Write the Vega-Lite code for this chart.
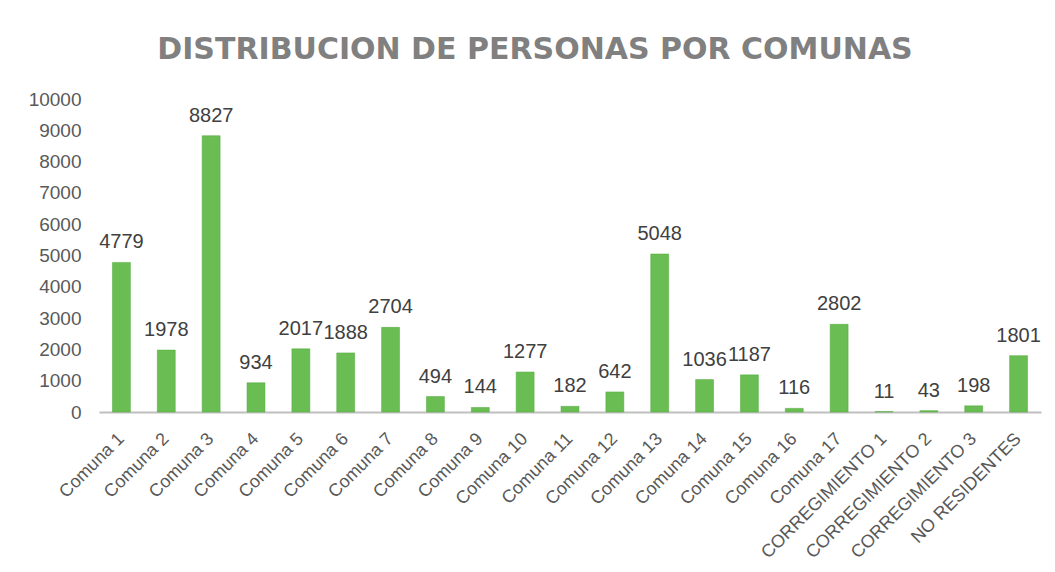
{
  "$schema": "https://vega.github.io/schema/vega-lite/v6.json",
  "width": 942,
  "height": 313,
  "autosize": {"type": "none"},
  "padding": {"left": 99, "top": 99, "right": 14, "bottom": 160},
  "background": "white",
  "title": {
    "text": "DISTRIBUCION DE PERSONAS POR COMUNAS",
    "font": "DejaVu Sans",
    "fontSize": 30,
    "fontWeight": "bold",
    "color": "#808080",
    "anchor": "middle",
    "dx": -35,
    "offset": 25
  },
  "config": {
    "view": {"stroke": null},
    "font": "Liberation Sans"
  },
  "data": {
    "values": [
      {"zona": "Comuna 1", "personas": 4779},
      {"zona": "Comuna 2", "personas": 1978},
      {"zona": "Comuna 3", "personas": 8827},
      {"zona": "Comuna 4", "personas": 934},
      {"zona": "Comuna 5", "personas": 2017},
      {"zona": "Comuna 6", "personas": 1888},
      {"zona": "Comuna 7", "personas": 2704},
      {"zona": "Comuna 8", "personas": 494},
      {"zona": "Comuna 9", "personas": 144},
      {"zona": "Comuna 10", "personas": 1277},
      {"zona": "Comuna 11", "personas": 182},
      {"zona": "Comuna 12", "personas": 642},
      {"zona": "Comuna 13", "personas": 5048},
      {"zona": "Comuna 14", "personas": 1036},
      {"zona": "Comuna 15", "personas": 1187},
      {"zona": "Comuna 16", "personas": 116},
      {"zona": "Comuna 17", "personas": 2802},
      {"zona": "CORREGIMIENTO 1", "personas": 11},
      {"zona": "CORREGIMIENTO 2", "personas": 43},
      {"zona": "CORREGIMIENTO 3", "personas": 198},
      {"zona": "NO RESIDENTES", "personas": 1801}
    ]
  },
  "encoding": {
    "x": {
      "field": "zona",
      "type": "nominal",
      "sort": null,
      "title": null,
      "scale": {"paddingInner": 0.6, "paddingOuter": 0.3},
      "axis": {
        "labelAngle": -45,
        "labelAlign": "right",
        "labelBaseline": "middle",
        "labelFontSize": 18,
        "labelColor": "#595959",
        "labelPadding": 24,
        "labelOverlap": false,
        "ticks": false,
        "domainColor": "#bfbfbf",
        "domainWidth": 2
      }
    },
    "y": {
      "field": "personas",
      "type": "quantitative",
      "title": null,
      "scale": {"domain": [0, 10000], "nice": false},
      "axis": {
        "values": [0, 1000, 2000, 3000, 4000, 5000, 6000, 7000, 8000, 9000, 10000],
        "format": "d",
        "grid": false,
        "domain": false,
        "ticks": false,
        "labelFontSize": 19,
        "labelColor": "#595959",
        "labelPadding": 18
      }
    }
  },
  "layer": [
    {
      "mark": {"type": "bar", "color": "#6abd52", "stroke": "#4fa83a", "strokeWidth": 0.5}
    },
    {
      "mark": {"type": "text", "baseline": "bottom", "dy": -10, "fontSize": 20, "color": "#404040"},
      "encoding": {"text": {"field": "personas", "type": "quantitative", "format": "d"}}
    }
  ]
}
